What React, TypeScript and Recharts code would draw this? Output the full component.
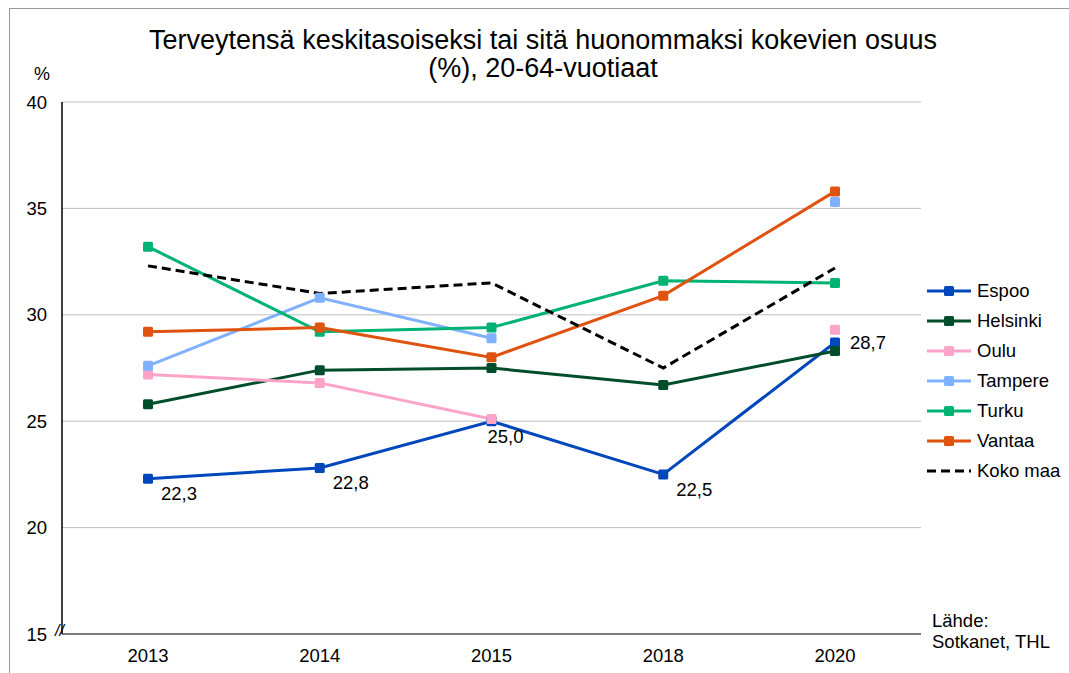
import React from 'react';
import { LineChart, Line, XAxis, YAxis, CartesianGrid, Legend, LabelList } from 'recharts';

const years = ['2013', '2014', '2015', '2018', '2020'];
const espoo = [22.3, 22.8, 25.0, 22.5, 28.7];
const helsinki = [25.8, 27.4, 27.5, 26.7, 28.3];
const oulu = [27.2, 26.8, 25.1, null, 29.3];
const tampere = [27.6, 30.8, 28.9, null, 35.3];
const turku = [33.2, 29.2, 29.4, 31.6, 31.5];
const vantaa = [29.2, 29.4, 28.0, 30.9, 35.8];
const kokoMaa = [32.3, 31.0, 31.5, 27.5, 32.2];
const yTicks = [15, 20, 25, 30, 35, 40];

const series = [
  { key: 'Espoo', values: espoo, color: '#0047BB' },
  { key: 'Helsinki', values: helsinki, color: '#004D2C' },
  { key: 'Oulu', values: oulu, color: '#FBA4C8' },
  { key: 'Tampere', values: tampere, color: '#80B1FF' },
  { key: 'Turku', values: turku, color: '#00B373' },
  { key: 'Vantaa', values: vantaa, color: '#E0520F' },
  { key: 'Koko maa', values: kokoMaa, color: '#000000', dashed: true },
];

const data = years.map((year, i) => {
  const row: Record<string, any> = { year };
  series.forEach((s) => {
    row[s.key] = s.values[i];
  });
  return row;
});

const FONT = '"Liberation Sans", Arial, sans-serif';
const SMALL = 18.5;

const squareDot = (color: string) => (props: any) => {
  const { cx, cy, index, value } = props;
  if (cx == null || cy == null || value == null) return <g key={`d-${index}`} />;
  return <rect key={`d-${index}`} x={cx - 5} y={cy - 5} width={10} height={10} rx={1.5} fill={color} />;
};

const fmt = (v: number) => v.toFixed(1).replace('.', ',');

const EspooLabel = (props: any) => {
  const { x, y, value, index } = props;
  if (value == null) return null;
  if (index === 4) {
    return (
      <text x={x + 15} y={y} dy="0.35em" fontSize={SMALL} fill="#000" fontFamily={FONT}>
        {fmt(value)}
      </text>
    );
  }
  const dx = index === 2 ? -4 : 13;
  return (
    <text x={x + dx} y={y + 15} dy="0.35em" fontSize={SMALL} fill="#000" fontFamily={FONT}>
      {fmt(value)}
    </text>
  );
};

const LegendBox = () => (
  <div style={{ fontFamily: FONT, fontSize: SMALL, color: '#000' }}>
    {series.map((s) => (
      <div key={s.key} style={{ height: 30, display: 'flex', alignItems: 'center' }}>
        <svg width={46} height={12} style={{ marginRight: 5 }}>
          <line
            x1={1}
            y1={6}
            x2={45}
            y2={6}
            stroke={s.color}
            strokeWidth={3}
            strokeDasharray={s.dashed ? '9 5' : undefined}
          />
          {!s.dashed && <rect x={18} y={1} width={10} height={10} rx={1.5} fill={s.color} />}
        </svg>
        <span>{s.key}</span>
      </div>
    ))}
  </div>
);

export default function App() {
  return (
    <div
      style={{
        position: 'absolute',
        left: 0,
        top: 0,
        width: 1069,
        height: 673,
        overflow: 'hidden',
        background: '#fff',
        fontFamily: FONT,
      }}
    >
      <div
        style={{
          position: 'absolute',
          left: 9,
          top: 8,
          width: 1100,
          height: 700,
          border: '1px solid #9a9a9a',
        }}
      />
      <div
        style={{
          position: 'absolute',
          left: 0,
          top: 26,
          width: 1086,
          textAlign: 'center',
          fontSize: 27,
          lineHeight: '28px',
          color: '#000',
        }}
      >
        Terveytensä keskitasoiseksi tai sitä huonommaksi kokevien osuus
        <br />
        (%), 20-64-vuotiaat
      </div>
      <div style={{ position: 'absolute', left: 34, top: 64, fontSize: 18, color: '#000' }}>%</div>
      <div style={{ position: 'absolute', left: 55, top: 622, fontSize: 16, color: '#000', fontStyle: 'italic' }}>
        //
      </div>
      <div style={{ position: 'absolute', left: 932, top: 610, fontSize: SMALL, lineHeight: '21px', color: '#000' }}>
        Lähde:
        <br />
        Sotkanet, THL
      </div>
      <div style={{ position: 'absolute', left: 0, top: 0 }}>
        <LineChart width={1069} height={673} data={data} margin={{ top: 102, right: 148, bottom: 9, left: 12 }}>
          <CartesianGrid vertical={false} stroke="#BFBFBF" strokeWidth={1} />
          <XAxis
            dataKey="year"
            tickLine={false}
            tickSize={0}
            tickMargin={15}
            height={30}
            padding={{ left: 86, right: 86 }}
            axisLine={{ stroke: '#595959', strokeWidth: 1.5 }}
            tick={{ fontSize: SMALL, fill: '#000', fontFamily: FONT }}
          />
          <XAxis xAxisId="top" dataKey="year" orientation="top" height={0} tick={false} tickLine={false} axisLine={{ stroke: '#000', strokeWidth: 1.5 }} />
          <YAxis
            domain={[15, 40]}
            ticks={yTicks}
            width={50}
            tickLine={false}
            tickSize={0}
            tickMargin={15}
            axisLine={{ stroke: '#000', strokeWidth: 1.5 }}
            tick={{ fontSize: SMALL, fill: '#000', fontFamily: FONT }}
          />
          <YAxis yAxisId="right" orientation="right" domain={[15, 40]} width={0} tick={false} tickLine={false} axisLine={{ stroke: '#000', strokeWidth: 1.5 }} />
          <Legend
            layout="vertical"
            align="center"
            verticalAlign="middle"
            content={() => <LegendBox />}
            wrapperStyle={{ left: 926, top: 276, width: 143 }}
          />
          {series.map((s) =>
            s.dashed ? (
              <Line
                key={s.key}
                dataKey={s.key}
                stroke={s.color}
                strokeWidth={3}
                strokeDasharray="9 5"
                dot={false}
                isAnimationActive={false}
              />
            ) : (
              <Line
                key={s.key}
                dataKey={s.key}
                stroke={s.color}
                strokeWidth={3}
                dot={squareDot(s.color)}
                activeDot={false}
                isAnimationActive={false}
              >
                {s.key === 'Espoo' && <LabelList dataKey="Espoo" content={EspooLabel} />}
              </Line>
            )
          )}
        </LineChart>
      </div>
    </div>
  );
}
